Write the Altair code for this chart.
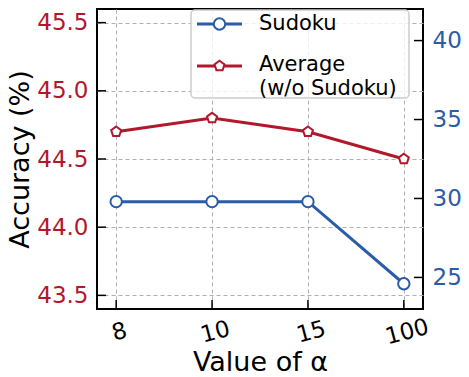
import altair as alt
import pandas as pd

# ---- data ----
alphas = ["8", "10", "15", "100"]
sudoku = [29.8, 29.8, 29.8, 24.6]
average = [44.7, 44.8, 44.7, 44.5]
left_ticks = [43.5, 44.0, 44.5, 45.0, 45.5]
right_ticks = [25, 30, 35, 40]
series_names = ["Sudoku", "Average\n(w/o Sudoku)"]

RED = "#b2182b"
BLUE = "#2b5ca8"
FONT = "DejaVu Sans"
W, H = 326, 300
PENT = "M0,-1L0.951,-0.309L0.588,0.809L-0.588,0.809L-0.951,-0.309Z"

df_avg = pd.DataFrame({"alpha": alphas, "acc": average})
df_sud = pd.DataFrame({"alpha": alphas, "sud": sudoku})
df_lt = pd.DataFrame({"acc": left_ticks})
df_rt = pd.DataFrame({"sud": right_ticks})
df_xt = pd.DataFrame({"alpha": alphas})
one = pd.DataFrame({"k": [0]})

xscale = alt.Scale(type="point", padding=0.2)
x_axis = alt.Axis(title="Value of α", labelAngle=345, labelAlign="center",
                  labelBaseline="top", labelPadding=12, labelFontSize=23,
                  labelColor="black", titleFontSize=27, titleFontWeight="normal",
                  titleColor="black", titlePadding=1, ticks=False, domain=False, grid=True,
                  gridColor="#b0b0b0", gridDash=[4, 3], gridWidth=1)
x_enc = alt.X("alpha:N", sort=alphas, scale=xscale, axis=x_axis)

lscale = alt.Scale(domain=[43.4, 45.6], nice=False, zero=False)
rscale = alt.Scale(domain=[23, 42], nice=False, zero=False)

l_axis = alt.Axis(title="Accuracy (%)", values=left_ticks, format=".1f",
                  orient="left", ticks=False, domain=False, grid=True,
                  gridColor="#b0b0b0", gridDash=[4, 3], gridWidth=1,
                  labelColor=RED, labelFontSize=23, labelPadding=9,
                  titleFontSize=27, titleFontWeight="normal", titlePadding=2,
                  titleColor="black")
r_axis = alt.Axis(title=None, values=right_ticks, format="d", orient="right",
                  ticks=False, domain=False, grid=False, labelColor=BLUE,
                  labelFontSize=23, labelPadding=9)
y_left = alt.Y("acc:Q", scale=lscale, axis=l_axis)
y_right = alt.Y("sud:Q", scale=rscale, axis=r_axis)

avg_line = alt.Chart(df_avg).mark_line(color=RED, strokeWidth=3).encode(x=x_enc, y=y_left)
avg_pts = alt.Chart(df_avg).mark_point(shape=PENT, size=110, filled=False, fill="white",
                                       fillOpacity=1, stroke=RED, strokeWidth=2,
                                       opacity=1).encode(x=x_enc, y=y_left)
lt_rule = alt.Chart(df_lt).mark_rule(color="black", strokeWidth=1.5).encode(
    y=y_left, x=alt.value(0), x2=alt.value(9))
xt_rule = alt.Chart(df_xt).mark_rule(color="black", strokeWidth=1.5).encode(
    x=x_enc, y=alt.value(H - 9), y2=alt.value(H))

left = alt.layer(avg_line, avg_pts, lt_rule, xt_rule)

sud_line = alt.Chart(df_sud).mark_line(color=BLUE, strokeWidth=3).encode(x=x_enc, y=y_right)
sud_pts = alt.Chart(df_sud).mark_point(shape="circle", size=130, filled=False, fill="white",
                                       fillOpacity=1, stroke=BLUE, strokeWidth=2,
                                       opacity=1).encode(x=x_enc, y=y_right)
rt_rule = alt.Chart(df_rt).mark_rule(color="black", strokeWidth=1.5).encode(
    y=y_right, x=alt.value(W - 9), x2=alt.value(W))

right = alt.layer(sud_line, sud_pts, rt_rule)

# ---- legend (drawn by hand, top right) ----
lg_box = alt.Chart(one).mark_rect(fill="white", fillOpacity=0.8, stroke="#cccccc",
                                  strokeWidth=1.5, cornerRadius=4).encode(
    x=alt.value(94), x2=alt.value(312), y=alt.value(1), y2=alt.value(89))
lg_l1 = alt.Chart(one).mark_rule(color=BLUE, strokeWidth=3).encode(
    x=alt.value(100), x2=alt.value(145), y=alt.value(15))
lg_p1 = alt.Chart(one).mark_point(shape="circle", size=130, filled=False, fill="white",
                                  fillOpacity=1, stroke=BLUE, strokeWidth=2, opacity=1).encode(
    x=alt.value(122.5), y=alt.value(15))
lg_t1 = alt.Chart(one).mark_text(align="left", baseline="middle", fontSize=21, font=FONT,
                                 color="black").encode(
    x=alt.value(162), y=alt.value(15), text=alt.value(series_names[0]))
lg_l2 = alt.Chart(one).mark_rule(color=RED, strokeWidth=3).encode(
    x=alt.value(100), x2=alt.value(145), y=alt.value(57))
lg_p2 = alt.Chart(one).mark_point(shape=PENT, size=110, filled=False, fill="white",
                                  fillOpacity=1, stroke=RED, strokeWidth=2, opacity=1).encode(
    x=alt.value(122.5), y=alt.value(57))
lg_t2 = alt.Chart(one).mark_text(align="left", baseline="middle", fontSize=21, font=FONT,
                                 color="black", lineBreak="\n", lineHeight=24).encode(
    x=alt.value(162), y=alt.value(56), text=alt.value(series_names[1]))

chart = alt.layer(left, right, lg_box, lg_l1, lg_p1, lg_t1, lg_l2, lg_p2, lg_t2).resolve_scale(
    y="independent"
).properties(
    width=W, height=H,
    autosize=alt.AutoSizeParams(type="none"),
    padding={"left": 89, "top": 1, "right": 38, "bottom": 68},
).configure(font=FONT).configure_view(stroke="black", strokeWidth=2)

chart.save("out.html", embed_options={"renderer": "svg", "actions": False})
